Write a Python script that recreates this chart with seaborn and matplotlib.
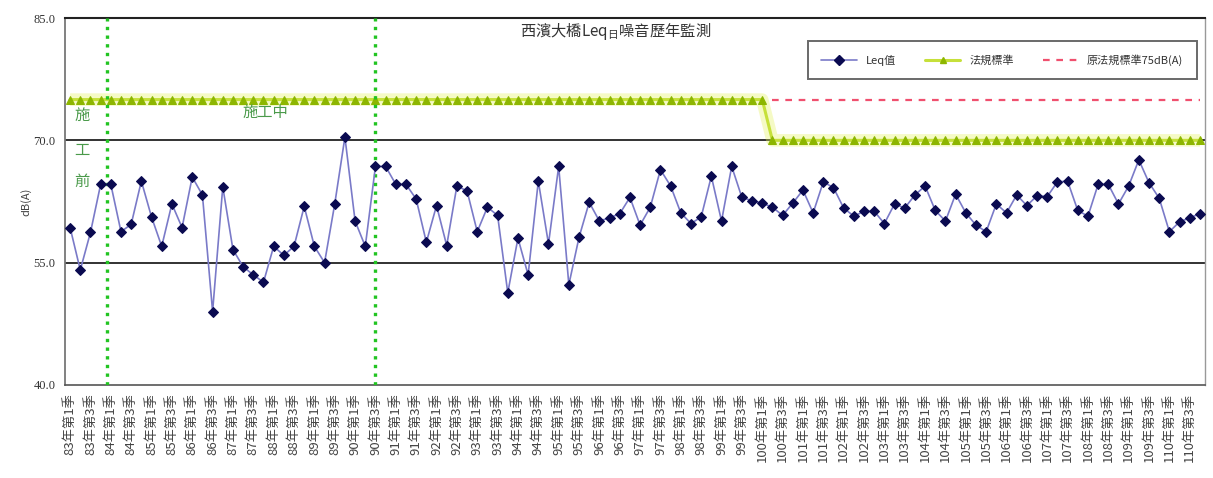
import numpy as np
import pandas as pd
import matplotlib
matplotlib.use("Agg")
import matplotlib.pyplot as plt
from matplotlib.lines import Line2D
import seaborn as sns

# Quarterly Leq readings, 83 Q1 .. 110 Q4
years = list(range(83, 111))
quarters = [1, 2, 3, 4]
leq = [
    59.3, 54.1, 58.7, 64.6, 64.6, 58.8, 59.7, 65.0, 60.6, 57.0,
    62.2, 59.3, 65.5, 63.3, 49.0, 64.3, 56.6, 54.5, 53.5, 52.6,
    57.0, 55.9, 57.0, 61.9, 57.0, 55.0, 62.2, 70.4, 60.1, 57.0,
    66.8, 66.8, 64.6, 64.6, 62.8, 57.5, 62.0, 57.1, 64.4, 63.8,
    58.8, 61.8, 60.8, 51.3, 58.0, 53.5, 65.0, 57.3, 66.8, 52.3,
    58.1, 62.4, 60.1, 60.5, 61.0, 63.0, 59.6, 61.8, 66.4, 64.4,
    61.1, 59.8, 60.6, 65.6, 60.1, 66.8, 63.0, 62.6, 62.3, 61.8,
    60.8, 62.3, 63.9, 61.1, 64.9, 64.2, 61.7, 60.7, 61.3, 61.3,
    59.8, 62.2, 61.7, 63.3, 64.4, 61.4, 60.1, 63.4, 61.1, 59.6,
    58.8, 62.2, 61.1, 63.3, 62.0, 63.2, 63.1, 64.9, 65.0, 61.4,
    60.7, 64.6, 64.6, 62.2, 64.4, 67.6, 64.8, 62.9, 58.8, 60.0,
    60.5, 61.0,
]
standard = [75.0] * 69 + [70.0] * 43
old_standard_value = 75.0
old_standard_start = 69
construction_marks = [3.6, 30.0]

tick_labels = [f"{y}年第{q}季" for y in years for q in quarters]

df = pd.DataFrame({
    "idx": np.arange(len(leq)),
    "leq": leq,
    "std": standard,
})

sns.set_theme(style="white")
plt.rcParams["font.family"] = ["Noto Sans CJK TC", "DejaVu Sans"]
plt.rcParams["mathtext.fontset"] = "custom"
plt.rcParams["mathtext.rm"] = "Noto Sans CJK TC"
plt.rcParams["axes.unicode_minus"] = False

fig = plt.figure(figsize=(12.13, 4.78), dpi=100)
ax = fig.add_axes([0.0536, 0.1946, 0.9398, 0.7677])

n = len(leq)
ax.set_xlim(-0.5, n - 0.5)
ax.set_ylim(40, 85)

# horizontal reference lines
for yv in (55, 70):
    ax.axhline(yv, color="#222222", lw=1.3, zorder=1)

# regulatory standard (yellow-green band with triangles)
ax.plot(df["idx"], df["std"], color="#E4F25A", lw=9, alpha=0.35, zorder=2,
        solid_capstyle="butt")
sns.lineplot(data=df, x="idx", y="std", ax=ax, color="#C6E03A", lw=2.2,
             marker="^", markersize=5.5, markerfacecolor="#8DB600",
             markeredgecolor="#8DB600", zorder=3, legend=False)

# former standard, dashed red
old_x = df["idx"].iloc[old_standard_start:]
ax.plot(old_x, [old_standard_value] * len(old_x), color="#F0506E", lw=1.6,
        ls=(0, (3, 3)), zorder=3)

# construction period markers
for xv in construction_marks:
    ax.axvline(xv, color="#22C422", lw=2.4, ls=(0, (1, 1.6)), zorder=4)

# Leq series
sns.lineplot(data=df, x="idx", y="leq", ax=ax, color="#7A7AC8", lw=1.2,
             marker="D", markersize=5, markerfacecolor="#0A0A50",
             markeredgecolor="#0A0A50", zorder=5, legend=False)

# annotations
ax.text(19.2, 73.4, "施工中", color="#4A9A4A", fontsize=11, ha="center",
        va="center", zorder=6)
for ch, yv in zip("施工前", (73.0, 68.8, 65.0)):
    ax.text(1.2, yv, ch, color="#4A9A4A", fontsize=11, ha="center",
            va="center", zorder=6)

ax.text(0.483, 0.962, "西濱大橋Leq$_{\\mathrm{日}}$噪音歷年監測",
        transform=ax.transAxes, ha="center", va="center", fontsize=11,
        color="#333333")

# axes styling
ax.set_yticks([40, 55, 70, 85])
ax.set_yticklabels([f"{v:.1f}" for v in (40, 55, 70, 85)],
                   fontfamily="Liberation Serif", fontsize=9, color="#333333")
ax.set_xticks(np.arange(0, n, 2))
ax.set_xticklabels(tick_labels[::2], rotation=90, fontsize=9.5,
                   color="#444444")
ax.set_xticks(np.arange(-0.5, n, 1), minor=True)
ax.tick_params(axis="x", which="major", length=0, pad=6)
ax.tick_params(axis="x", which="minor", length=4, direction="inout",
               color="#555555", width=0.8)
ax.tick_params(axis="y", length=4, direction="out", color="#555555", pad=3)
ax.set_xlabel("")
ax.set_ylabel("dB(A)", fontsize=8, color="#444444", labelpad=1)

ax.spines["top"].set_color("#222222")
ax.spines["top"].set_linewidth(1.5)
ax.spines["left"].set_color("#777777")
ax.spines["left"].set_linewidth(1.3)
ax.spines["right"].set_color("#999999")
ax.spines["right"].set_linewidth(1.0)
ax.spines["bottom"].set_color("#555555")
ax.spines["bottom"].set_linewidth(1.2)

handles = [
    Line2D([], [], color="#7A7AC8", lw=1.2, marker="D", markersize=5,
           markerfacecolor="#0A0A50", markeredgecolor="#0A0A50"),
    Line2D([], [], color="#C6E03A", lw=2.2, marker="^", markersize=5,
           markerfacecolor="#8DB600", markeredgecolor="#8DB600"),
    Line2D([], [], color="#F0506E", lw=1.6, ls=(0, (3, 3))),
]
leg = ax.legend(handles, ["Leq值", "法規標準", "原法規標準75dB(A)"],
                loc="upper right", bbox_to_anchor=(0.9975, 0.952), ncol=3,
                fontsize=8, frameon=True, fancybox=False, handlelength=3.2,
                columnspacing=2.6, borderpad=1.2)
leg.get_frame().set_edgecolor("#444444")
leg.get_frame().set_linewidth(1.4)
for t in leg.get_texts():
    t.set_color("#333333")

fig.savefig("out.png", dpi=100, facecolor="white")
